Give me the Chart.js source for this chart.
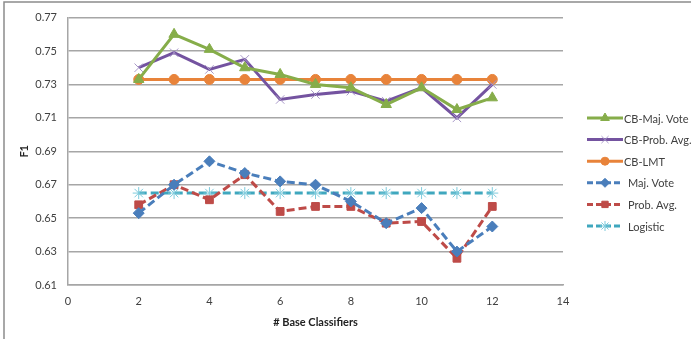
<!DOCTYPE html>
<html>
<head>
<meta charset="utf-8">
<script src="https://cdn.jsdelivr.net/npm/chart.js@4"></script>
<style>
  html, body { margin: 0; padding: 0; background: #fff; }
</style>
</head>
<body>
<canvas id="chart" width="691" height="339"></canvas>
<script>
// x values (number of base classifiers)
const baseClassifiers = [2, 3, 4, 5, 6, 7, 8, 9, 10, 11, 12];

const cbMajVote = [0.733, 0.760, 0.751, 0.740, 0.736, 0.730, 0.728, 0.718, 0.728, 0.715, 0.722];
const cbProbAvg = [0.740, 0.749, 0.739, 0.745, 0.721, 0.724, 0.726, 0.720, 0.728, 0.710, 0.730];
const cbLMT     = [0.733, 0.733, 0.733, 0.733, 0.733, 0.733, 0.733, 0.733, 0.733, 0.733, 0.733];
const majVote   = [0.653, 0.670, 0.684, 0.677, 0.672, 0.670, 0.660, 0.647, 0.656, 0.630, 0.645];
const probAvg   = [0.658, 0.670, 0.661, 0.676, 0.654, 0.657, 0.657, 0.647, 0.648, 0.626, 0.657];
const logistic  = [0.665, 0.665, 0.665, 0.665, 0.665, 0.665, 0.665, 0.665, 0.665, 0.665, 0.665];

const xTicks = [0, 2, 4, 6, 8, 10, 12, 14];
const yTicks = [0.61, 0.63, 0.65, 0.67, 0.69, 0.71, 0.73, 0.75, 0.77];

const FONT = 'Lato, "Liberation Sans", sans-serif';

function serie(label, vals, color, style, radius, dashed, markerBorder) {
  return {
    label: label,
    data: vals.map((v, i) => ({ x: baseClassifiers[i], y: v })),
    borderColor: color,
    backgroundColor: color,
    pointBackgroundColor: color,
    pointBorderColor: markerBorder || color,
    pointStyle: style,
    pointRadius: radius,
    pointBorderWidth: 1,
    borderWidth: 3,
    borderDash: dashed ? [8, 4] : [],
    tension: 0,
    fill: false
  };
}

const datasets = [
  serie('CB-Maj. Vote', cbMajVote, '#86AD4A', 'triangle', 6, false),
  serie('CB-Prob. Avg.', cbProbAvg, '#7453A0', 'crossRot', 6, false, '#A898C8'),
  serie('CB-LMT', cbLMT, '#E8833A', 'circle', 5, false),
  serie('Maj. Vote', majVote, '#4A7EBB', 'rectRot', 5.5, true),
  serie('Prob. Avg.', probAvg, '#BE4B48', 'rect', 5.5, true),
  serie('Logistic', logistic, '#3FA7BE', 'star', 6, true, '#7ECBDC')
];

// outer frame + Excel style legend (line with marker in the middle)
const excelLegend = {
  id: 'excelLegend',
  afterDraw(chart) {
    const ctx = chart.ctx;
    ctx.save();
    ctx.strokeStyle = '#8c8c8c';
    ctx.lineWidth = 1.5;
    ctx.beginPath();
    ctx.moveTo(4, 339);
    ctx.lineTo(4, 2);
    ctx.lineTo(691, 2);
    ctx.stroke();

    const x0 = 587, y0 = 118, gap = 21.6;
    chart.data.datasets.forEach((ds, i) => {
      const y = y0 + i * gap;
      ctx.strokeStyle = ds.borderColor;
      ctx.lineWidth = 3;
      ctx.setLineDash(ds.borderDash.length ? [6, 3] : []);
      ctx.beginPath();
      ctx.moveTo(x0, y);
      ctx.lineTo(x0 + 36, y);
      ctx.stroke();
      ctx.setLineDash([]);
      ctx.fillStyle = ds.pointBackgroundColor;
      ctx.strokeStyle = ds.pointBorderColor;
      ctx.lineWidth = 1;
      Chart.helpers.drawPoint(ctx, {
        pointStyle: ds.pointStyle,
        radius: ds.pointRadius - 1,
        borderWidth: 1,
        rotation: 0
      }, x0 + 18, y);
      ctx.fillStyle = '#404040';
      ctx.font = '11px ' + FONT;
      ctx.textBaseline = 'middle';
      ctx.fillText(ds.label, x0 + (i < 3 ? 37 : 41), y + 1);
    });
    ctx.restore();
  }
};

new Chart(document.getElementById('chart').getContext('2d'), {
  type: 'line',
  data: { datasets: datasets },
  options: {
    responsive: false,
    animation: false,
    layout: { padding: { left: 10, right: 128, top: 16, bottom: 0 } },
    plugins: {
      legend: { display: false },
      tooltip: { enabled: false }
    },
    scales: {
      x: {
        type: 'linear',
        min: 0,
        max: 14,
        afterBuildTicks: s => { s.ticks = xTicks.map(v => ({ value: v })); },
        afterFit: s => { s.height = 54; },
        grid: { display: false, drawTicks: false },
        border: { display: true, color: '#a6a6a6', width: 1.5 },
        ticks: { color: '#404040', font: { family: FONT, size: 11 }, padding: 10 },
        title: { display: true, text: '# Base Classifiers', color: '#222', font: { family: FONT, size: 11, weight: 'bold' }, padding: { top: 4, bottom: 10 } }
      },
      y: {
        min: 0.61,
        max: 0.77,
        afterBuildTicks: s => { s.ticks = yTicks.map(v => ({ value: v })); },
        afterFit: s => { s.width = 58; },
        grid: { color: '#a6a6a6', lineWidth: 1.5, drawTicks: false },
        border: { display: true, color: '#a6a6a6', width: 1.5 },
        ticks: { color: '#404040', font: { family: FONT, size: 11 }, padding: 11, callback: v => v.toFixed(2) },
        title: { display: true, text: 'F1', color: '#222', font: { family: FONT, size: 11, weight: 'bold' }, padding: { top: 8, bottom: 6 } }
      }
    }
  },
  plugins: [excelLegend]
});
</script>
</body>
</html>
